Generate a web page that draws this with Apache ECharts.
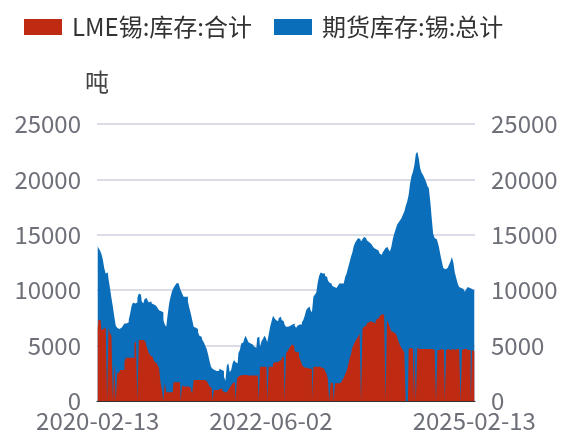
<!DOCTYPE html>
<html>
<head>
<meta charset="utf-8">
<script src="https://cdn.jsdelivr.net/npm/echarts@6/dist/echarts.min.js"></script>
<style>
    html, body { margin: 0; padding: 0; background: #fff; }
    #chart { width: 565px; height: 437px; }
</style>
</head>
<body>
<div id="chart"></div>
<script>
    // weekly, 2020-02-13 .. 2025-02-13
    var startDate = '2020-02-13';
    var weekCount = 262;
    var tickLabels = ['2020-02-13', '2022-06-02', '2025-02-13'];

    var lmeStock = [
        6600, 7300, 7300, 6400, 6500, 6600, 7100, 0, 6600, 6100,
        5900, 0, 3400, 0, 2500, 2600, 2800, 2800, 2800, 3500,
        3900, 3900, 3900, 3900, 3900, 3900, 5200, 5400, 0, 5500,
        5500, 5500, 5500, 5400, 5100, 4700, 4300, 4100, 4000, 3800,
        3500, 3400, 3200, 3000, 1700, 1000, 0, 1600, 800, 800,
        800, 800, 800, 1700, 1700, 1700, 1700, 1700, 0, 1400,
        1300, 1300, 1300, 1300, 1200, 1000, 700, 1900, 1900, 1900,
        1900, 1900, 1900, 1900, 1900, 1800, 1700, 1600, 1300, 1200,
        0, 1000, 1000, 1000, 1000, 1100, 1100, 900, 800, 800,
        800, 1000, 1200, 1400, 1600, 1700, 0, 2000, 2200, 2300,
        2350, 2350, 2350, 2350, 2350, 2300, 2300, 2300, 2300, 2300,
        2300, 2300, 0, 3100, 3100, 3100, 3100, 3100, 0, 3100,
        3100, 3100, 3400, 3500, 3500, 3500, 3600, 3700, 3900, 4000,
        0, 4300, 4500, 4700, 4900, 5100, 5000, 4500, 4400, 4400,
        4000, 3700, 3300, 3100, 3000, 3000, 3000, 2900, 2900, 0,
        3100, 3100, 3100, 3100, 3100, 3000, 3000, 2900, 2700, 2500,
        2000, 0, 1700, 1600, 0, 1600, 1600, 1600, 1650, 1700,
        1900, 2100, 2400, 2700, 3200, 3800, 4200, 4800, 5100, 5400,
        5600, 5800, 6100, 0, 6500, 6700, 6800, 7000, 7100, 7200,
        7100, 7100, 7000, 7200, 7400, 7500, 7700, 7800, 7800, 7700,
        0, 7300, 7000, 6600, 6300, 6200, 6100, 6000, 5800, 5400,
        5000, 4800, 4600, 4400, 0, 0, 4700, 4800, 4700, 0,
        4800, 0, 4800, 4700, 4700, 4800, 4700, 4700, 4600, 4700,
        4700, 4700, 4700, 4600, 4700, 0, 4600, 4600, 4700, 4700,
        4600, 0, 4600, 4700, 4600, 4600, 4700, 4600, 4600, 4700,
        4700, 4600, 0, 4600, 4700, 4700, 4700, 4600, 4600, 0,
        4600, 4500
    ];

    var futuresStock = [
        14000, 13800, 13600, 13300, 12800, 12000, 11500, 11600, 11000, 10200,
        9300, 8500, 7600, 6800, 6600, 6500, 6600, 6700, 6800, 7000,
        7000, 7100, 7300, 7900, 8600, 8900, 8800, 8900, 9300, 9700,
        9600, 9000, 8800, 9200, 9300, 9100, 8900, 9000, 8800, 8700,
        8600, 8500, 8400, 8200, 8100, 8000, 7300, 6900, 6700, 7800,
        8800, 9400, 9900, 10200, 10400, 10600, 10650, 10400, 10000, 9700,
        9400, 9400, 9400, 9000, 8400, 7900, 7300, 6700, 6600, 6500,
        6200, 5900, 5800, 5500, 5300, 5000, 4700, 4200, 3600, 3100,
        2900, 2800, 2700, 2800, 2700, 2900, 2800, 2700, 2200, 1800,
        3200, 3400, 2600, 2800, 3400, 3700, 3500, 3400, 4300, 4600,
        5200, 5300, 5600, 5900, 5600, 5300, 5200, 5100, 5000, 4900,
        4800, 5700, 5800, 4900, 5400, 5600, 5900, 5700, 5300, 6000,
        6700, 7200, 7700, 7500, 7300, 7200, 7500, 7600, 7300, 7200,
        6900, 6700, 6700, 6800, 6800, 6900, 7000, 6800, 6600, 6800,
        6900, 6900, 7100, 7300, 7700, 8200, 8400, 8500, 8200, 8000,
        9400, 9600, 9800, 10700, 11300, 11600, 11500, 11500, 11300, 11200,
        10900, 10700, 10600, 10400, 10300, 10200, 10200, 10400, 10600, 10600,
        10600, 10700, 11200, 11500, 12000, 12500, 13000, 13400, 14000, 14300,
        14500, 14700, 14600, 14400, 14600, 14800, 14700, 14500, 14350, 14200,
        14200, 14000, 13800, 13700, 13600, 13500, 13300, 13200, 13400, 13600,
        13800, 13900, 13700, 13500, 13900, 14600, 15100, 15500, 15900, 16100,
        16300, 16500, 16800, 17100, 17600, 18000, 18600, 19600, 20300, 20700,
        21300, 22300, 22500, 21900, 21000, 20600, 20400, 20100, 19800, 19400,
        19200, 18000, 16500, 15100, 14700, 14600, 14400, 13900, 13200, 12600,
        12000, 11900, 12000, 12100, 12300, 12600, 13000, 12500, 11600, 11100,
        10600, 10300, 10200, 10100, 10000, 9850, 10100, 10300, 10200, 10100,
        10000, 10000
    ];

    var dates = [];
    var d0 = new Date(startDate + 'T00:00:00Z');
    for (var i = 0; i < weekCount; i++) {
        var d = new Date(d0.getTime() + i * 7 * 86400000);
        dates.push(d.toISOString().slice(0, 10));
    }

    var font = '"Noto Sans CJK SC", "Noto Sans", sans-serif';
    var chart = echarts.init(document.getElementById('chart'));

    var yAxisBase = {
        type: 'value',
        min: 0,
        max: 25000,
        interval: 5000,
        axisLine: { show: false },
        axisTick: { show: false },
        axisLabel: {
            color: '#6E7079', fontSize: 24, fontFamily: font, margin: 16,
            formatter: function (v) { return String(v); }
        },
        splitLine: { lineStyle: { color: '#DADDE7', width: 2 } }
    };

    function areaSeries(name, data, color, z) {
        return {
            name: name,
            type: 'line',
            data: data,
            step: 'middle',
            z: z,
            showSymbol: false,
            symbol: 'none',
            lineStyle: { width: 0, color: color },
            itemStyle: { color: color },
            areaStyle: { color: color, opacity: 1, origin: 'start' }
        };
    }

    chart.setOption({
        animation: false,
        textStyle: { fontFamily: font },
        legend: {
            left: 19,
            top: 10,
            icon: 'rect',
            itemWidth: 38,
            itemHeight: 16,
            itemGap: 22,
            textStyle: { color: '#333', fontSize: 24, fontFamily: font, padding: [0, 0, 0, 5] },
            data: ['LME锡:库存:合计', '期货库存:锡:总计']
        },
        grid: { left: 97, right: 90, top: 124, bottom: 36 },
        xAxis: {
            type: 'category',
            data: dates,
            boundaryGap: true,
            axisLine: { lineStyle: { color: '#333', width: 1 } },
            axisTick: { interval: 119, length: 6, lineStyle: { color: '#333' } },
            axisLabel: {
                color: '#6E7079',
                fontSize: 24,
                fontFamily: font,
                margin: 8,
                interval: function (idx, val) {
                    return tickLabels.indexOf(val) > -1 && (idx === 0 || idx === 120 || idx === weekCount - 1);
                }
            }
        },
        yAxis: [
            Object.assign({}, yAxisBase, {
                position: 'left',
                name: '吨',
                nameGap: 30,
                nameTextStyle: { color: '#444', fontSize: 24, fontFamily: font }
            }),
            Object.assign({}, yAxisBase, { position: 'right' })
        ],
        series: [
            areaSeries('LME锡:库存:合计', lmeStock, '#BF2A12', 3),
            areaSeries('期货库存:锡:总计', futuresStock, '#0A6EBA', 2)
        ]
    });
</script>
</body>
</html>
